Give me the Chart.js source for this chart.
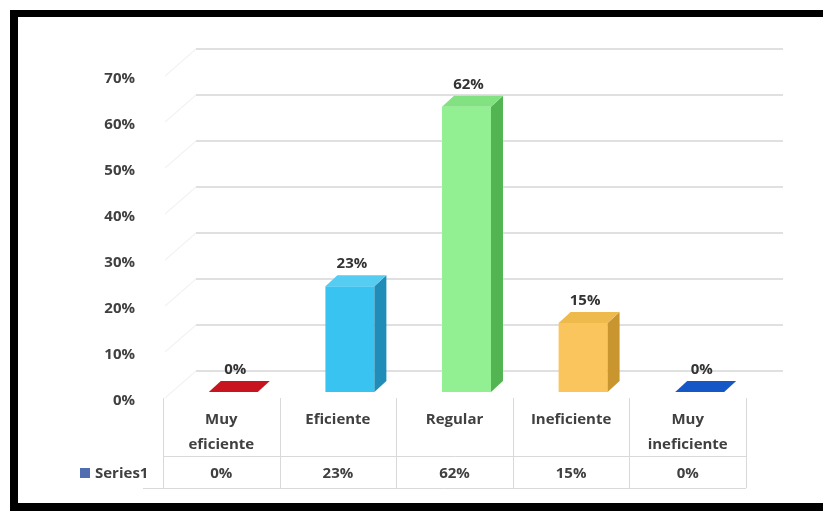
<!DOCTYPE html>
<html>
<head>
<meta charset="utf-8">
<script src="https://cdn.jsdelivr.net/npm/chart.js@4"></script>
<style>
  html, body { margin: 0; background: #fff; overflow: hidden; width: 823px; height: 511px; }
  #marco {
    position: absolute; left: 10px; top: 10px;
    width: 805px; height: 486px;
    border-left: 8px solid #000; border-top: 7px solid #000; border-bottom: 8px solid #000;
    background: #fff;
  }
  #grafico { position: absolute; left: 0; top: 0; }
</style>
</head>
<body>
<div id="marco"></div>
<canvas id="grafico" width="823" height="511"></canvas>
<script>
// Datos de la encuesta
const categorias = [["Muy", "eficiente"], ["Eficiente"], ["Regular"], ["Ineficiente"], ["Muy", "ineficiente"]];
const valores = [0, 0.23, 0.62, 0.15, 0];
const nombreSerie = "Series1";

// Colores de cada barra: frente, lado y tapa
const colorFrente = ["#c8141e", "#38c3f0", "#92f092", "#f9c55c", "#1657c8"];
const colorLado = ["#9a0c14", "#1f8db8", "#52b552", "#c8952e", "#0e3f99"];
const colorTapa = ["#c8141e", "#55cdf3", "#82e282", "#efba4c", "#1657c8"];

const FUENTE = "'Open Sans', sans-serif";
const TEXTO = "#404040";
const PROF_X = 12, PROF_Y = -11;   // profundidad de las barras
const PARED_X = 33, PARED_Y = -21; // pared del fondo

// Porcentaje sin decimales
const pct = v => Math.round(v * 100) + "%";

// Efecto 3D: cuadrícula en la pared, caras laterales y tapas
const barras3d = {
  id: "barras3d",
  beforeDatasetsDraw(chart) {
    const { ctx, chartArea, scales } = chart;
    const y = scales.y;
    ctx.save();
    y.ticks.forEach(t => {
      const py = y.getPixelForValue(t.value);
      // línea en la pared lateral
      ctx.strokeStyle = "#f3f3f3";
      ctx.lineWidth = 1.2;
      ctx.beginPath();
      ctx.moveTo(chartArea.left + 2, py + 6);
      ctx.lineTo(chartArea.left + PARED_X, py + PARED_Y);
      ctx.stroke();
      // línea en la pared del fondo
      ctx.strokeStyle = "#d6d6d6";
      ctx.lineWidth = 1.4;
      ctx.beginPath();
      ctx.moveTo(chartArea.left + PARED_X, py + PARED_Y);
      ctx.lineTo(chartArea.right + 37, py + PARED_Y);
      ctx.stroke();
    });
    ctx.restore();
    ctx.save();
    ctx.translate(PROF_X, 0);
  },
  afterDatasetsDraw(chart) {
    const { ctx } = chart;
    const meta = chart.getDatasetMeta(0);
    meta.data.forEach((bar, i) => {
      const izq = bar.x - bar.width / 2, der = bar.x + bar.width / 2;
      const arriba = bar.y, base = bar.base;
      if (base - arriba > 0.5) {
        ctx.fillStyle = colorLado[i];
        ctx.beginPath();
        ctx.moveTo(der, arriba);
        ctx.lineTo(der + PROF_X, arriba + PROF_Y);
        ctx.lineTo(der + PROF_X, base + PROF_Y);
        ctx.lineTo(der, base);
        ctx.closePath();
        ctx.fill();
      }
      ctx.fillStyle = colorTapa[i];
      ctx.beginPath();
      ctx.moveTo(izq, arriba);
      ctx.lineTo(izq + PROF_X, arriba + PROF_Y);
      ctx.lineTo(der + PROF_X, arriba + PROF_Y);
      ctx.lineTo(der, arriba);
      ctx.closePath();
      ctx.fill();
    });
    ctx.restore();

    // etiquetas de valor sobre las barras
    ctx.save();
    ctx.font = "bold 15px " + FUENTE;
    ctx.fillStyle = "#333";
    ctx.textAlign = "center";
    ctx.textBaseline = "middle";
    meta.data.forEach((bar, i) => {
      ctx.fillText(pct(valores[i]), bar.x + PROF_X + 2, bar.y + PROF_Y - 11);
    });
    ctx.restore();
  }
};

// Tabla de datos bajo el eje de categorías
const tablaDatos = {
  id: "tablaDatos",
  afterDraw(chart) {
    const { ctx, scales } = chart;
    const x = scales.x;
    const ancho = x.getPixelForValue(1) - x.getPixelForValue(0);
    const bordes = [];
    for (let i = 0; i <= categorias.length; i++) {
      bordes.push(x.getPixelForValue(0) - ancho / 2 + i * ancho);
    }
    const yTop = 398, yMed = 456, yFin = 488;
    ctx.save();
    ctx.strokeStyle = "#d9d9d9";
    ctx.lineWidth = 1;
    bordes.forEach(bx => {
      ctx.beginPath();
      ctx.moveTo(Math.round(bx) + 0.5, yTop);
      ctx.lineTo(Math.round(bx) + 0.5, yFin);
      ctx.stroke();
    });
    ctx.beginPath();
    ctx.moveTo(bordes[0], yMed + 0.5);
    ctx.lineTo(bordes[bordes.length - 1], yMed + 0.5);
    ctx.moveTo(143, yFin + 0.5);
    ctx.lineTo(bordes[bordes.length - 1], yFin + 0.5);
    ctx.stroke();

    ctx.font = "bold 15px " + FUENTE;
    ctx.fillStyle = TEXTO;
    ctx.textAlign = "center";
    ctx.textBaseline = "middle";
    categorias.forEach((lineas, i) => {
      const cx = x.getPixelForValue(i);
      lineas.forEach((t, k) => ctx.fillText(t, cx, 420 + k * 25));
      ctx.fillText(pct(valores[i]), cx, 474);
    });

    // clave de la serie
    ctx.fillStyle = "#4f6db0";
    ctx.fillRect(80, 468, 10, 10);
    ctx.fillStyle = TEXTO;
    ctx.textAlign = "left";
    ctx.fillText(nombreSerie, 95, 474);
    ctx.restore();
  }
};

function crearGrafico() {
  const ctx = document.getElementById("grafico").getContext("2d");
  new Chart(ctx, {
    type: "bar",
    data: {
      labels: categorias,
      datasets: [{
        label: nombreSerie,
        data: valores,
        backgroundColor: colorFrente,
        barPercentage: 0.42,
        categoryPercentage: 1
      }]
    },
    options: {
      responsive: false,
      animation: false,
      layout: { padding: { top: 70, right: 77, bottom: 119, left: 0 } },
      plugins: { legend: { display: false }, tooltip: { enabled: false } },
      scales: {
        x: { display: false },
        y: {
          min: 0,
          max: 0.7,
          grid: { display: false },
          border: { display: false },
          afterFit: s => { s.width = 163; },
          ticks: {
            stepSize: 0.1,
            padding: 20,
            labelOffset: 9,
            color: TEXTO,
            font: { family: FUENTE, size: 15, weight: "bold" },
            callback: v => pct(v)
          }
        }
      }
    },
    plugins: [barras3d, tablaDatos]
  });
}

document.addEventListener("DOMContentLoaded", crearGrafico);
</script>
</body>
</html>
